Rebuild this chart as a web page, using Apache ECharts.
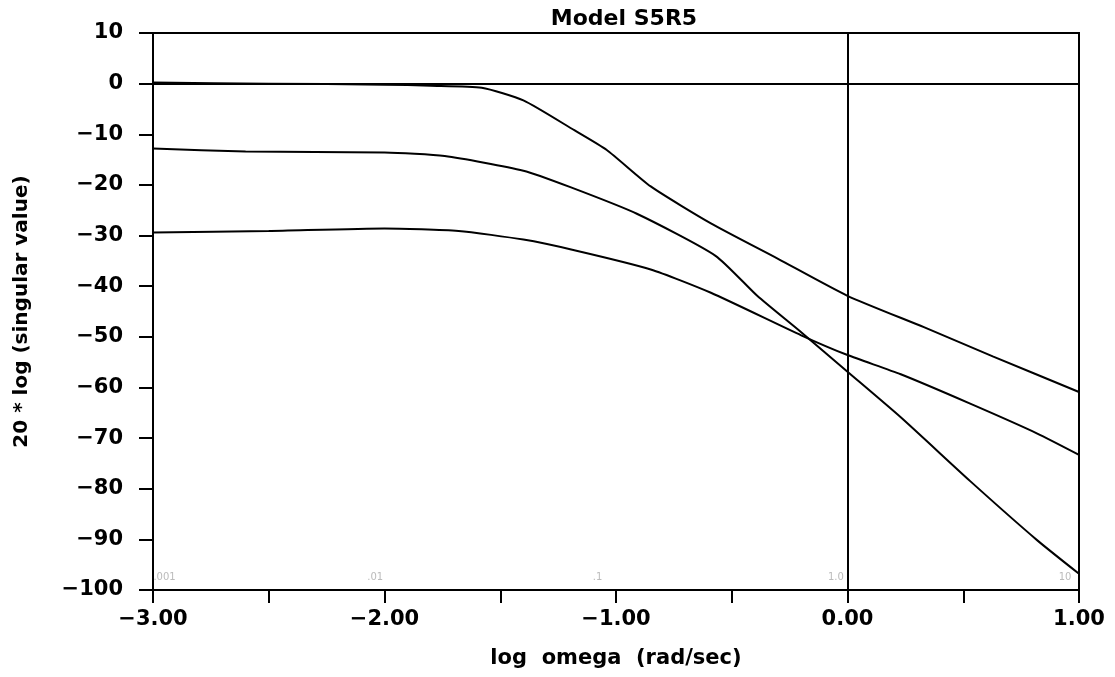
<!DOCTYPE html>
<html><head><meta charset="utf-8">
<script src="https://cdn.jsdelivr.net/npm/echarts@6/dist/echarts.min.js"></script>
<style>html,body{margin:0;padding:0;background:#fff}#c{width:1115px;height:677px}</style>
</head><body><div id="c"></div>
<script>
// log omega values and singular values (dB)
const curveA_x = [-3.0, -2.5, -2.0, -1.8, -1.58, -1.40, -1.18, -1.04, -0.85, -0.59, -0.30, 0.0, 0.33, 0.63, 1.0];
const curveA_y = [0.2, 0.0, -0.2, -0.4, -0.8, -3.3, -9.2, -13.1, -20.3, -27.6, -34.6, -41.9, -48.1, -53.9, -60.9];
const curveB_x = [-3.0, -2.6, -2.0, -1.74, -1.40, -1.20, -0.91, -0.57, -0.39, -0.20, 0.0, 0.23, 0.53, 0.82, 1.0];
const curveB_y = [-12.8, -13.4, -13.6, -14.3, -17.2, -20.4, -25.7, -34.0, -41.9, -49.1, -56.9, -65.9, -78.5, -90.2, -96.8];
const curveC_x = [-3.0, -2.5, -2.0, -1.68, -1.40, -1.18, -0.85, -0.59, -0.20, 0.0, 0.23, 0.53, 0.82, 1.0];
const curveC_y = [-29.4, -29.1, -28.6, -29.1, -30.8, -32.9, -36.7, -41.3, -49.7, -53.6, -57.4, -63.2, -69.1, -73.3];
const freqNotes = ['.001', '.01', '.1', '1.0', '10'];
const freqNotes_x = [-2.95, -2.04, -1.08, -0.05, 0.94];
const freqNotes_y = -97.5;
const xTicks = [-3, -2, -1, 0, 1];

const pair = (xs, ys) => xs.map((x, i) => [x, ys[i]]);
const minus = s => String(s).replace('-', '\u2212');
const FONT = 'DejaVu Sans';
const lineStyle = { color: '#000', width: 2 };

const chart = echarts.init(document.getElementById('c'), null, { renderer: 'canvas' });
chart.setOption({
  animation: false,
  backgroundColor: '#fff',
  title: {
    text: 'Model S5R5', left: 619, top: 3, textAlign: 'center',
    textStyle: { fontFamily: FONT, fontSize: 22, fontWeight: 'bold', color: '#000' }
  },
  grid: { left: 153, right: 36, top: 33, bottom: 87, show: true, borderColor: '#000', borderWidth: 2, backgroundColor: 'transparent' },
  xAxis: {
    type: 'value', min: -3, max: 1, interval: 0.5,
    name: 'log  omega  (rad/sec)', nameLocation: 'middle', nameGap: 58,
    nameTextStyle: { fontFamily: FONT, fontSize: 21, fontWeight: 'bold', color: '#000' },
    axisLine: { show: true, onZero: false, lineStyle: { color: '#000', width: 2 } },
    axisTick: { show: true, inside: false, length: 13, lineStyle: { color: '#000', width: 2 } },
    splitLine: { show: false },
    axisLabel: {
      fontFamily: FONT, fontSize: 21, fontWeight: 'bold', color: '#000', margin: 19,
      formatter: v => xTicks.includes(v) ? minus(v.toFixed(2)) : ''
    }
  },
  yAxis: {
    type: 'value', min: -100, max: 10, interval: 10,
    name: '20 * log (singular value)', nameLocation: 'middle', nameGap: 121, nameRotate: 90,
    nameTextStyle: { fontFamily: FONT, fontSize: 20, fontWeight: 'bold', color: '#000' },
    axisLine: { show: true, onZero: false, lineStyle: { color: '#000', width: 2 } },
    axisTick: { show: true, inside: false, length: 14, lineStyle: { color: '#000', width: 2 } },
    splitLine: { show: false },
    axisLabel: { fontFamily: FONT, fontSize: 21, fontWeight: 'bold', color: '#000', margin: 30, formatter: v => minus(v) }
  },
  series: [
    {
      type: 'line', data: pair(curveA_x, curveA_y), smooth: 0.2, symbol: 'none', lineStyle,
      markLine: {
        silent: true, symbol: 'none', label: { show: false },
        lineStyle: { color: '#000', width: 2, type: 'solid' },
        data: [{ yAxis: 0 }, { xAxis: 0 }]
      }
    },
    { type: 'line', data: pair(curveB_x, curveB_y), smooth: 0.2, symbol: 'none', lineStyle },
    { type: 'line', data: pair(curveC_x, curveC_y), smooth: 0.2, symbol: 'none', lineStyle },
    {
      type: 'scatter', symbolSize: 0, silent: true,
      data: freqNotes_x.map((x, i) => ({ value: [x, freqNotes_y], name: freqNotes[i] })),
      label: { show: true, position: 'inside', formatter: p => p.name, fontFamily: FONT, fontSize: 10, color: '#aaa' }
    }
  ]
});
</script>
</body></html>
